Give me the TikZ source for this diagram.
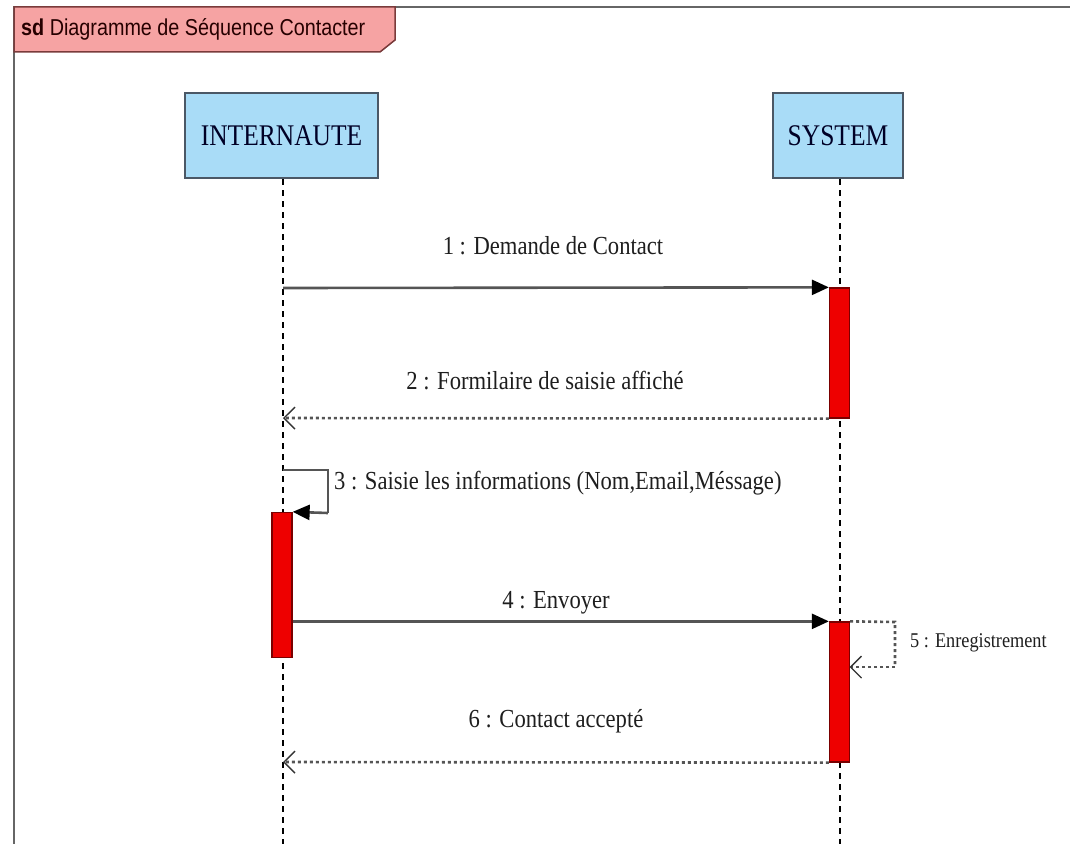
\documentclass[tikz,border=0pt]{standalone}
\usepackage{fontspec}
\usetikzlibrary{arrows.meta}
\newfontfamily\umlserif[FakeStretch=0.87]{Liberation Serif}
\newfontfamily\headserif[FakeStretch=0.85]{Liberation Serif}
\newfontfamily\umlsans[FakeStretch=0.86]{Liberation Sans}
\definecolor{headfill}{HTML}{A9DCF7}
\definecolor{headdraw}{HTML}{4B5866}
\definecolor{tabfill}{HTML}{F6A3A3}
\definecolor{tabdraw}{HTML}{7A3B3B}
\definecolor{actfill}{HTML}{EE0000}
\definecolor{actdraw}{HTML}{7A0000}
\definecolor{msgcol}{HTML}{555555}
\definecolor{txtcol}{HTML}{1E1E1E}
\tikzset{
  head/.style={draw=headdraw, fill=headfill, line width=2pt, minimum height=85pt, inner sep=0pt,
    font=\headserif\fontsize{30}{34}\selectfont, text=black!85!blue},
  lifeline/.style={dash pattern=on 6pt off 5pt, line width=1.3pt, black},
  actbar/.style={draw=actdraw, fill=actfill, line width=1.3pt, minimum width=20pt, inner sep=0pt},
  syncmsg/.style={draw=msgcol, line width=2.6pt, -{Triangle[length=17pt,width=15pt,fill=black,color=black]}},
  retmsg/.style={draw=msgcol, line width=2.6pt, dash pattern=on 3pt off 3pt,
    -{Straight Barb[length=11pt,width=22pt,line width=1.4pt,color=black!80]}},
  msglabel/.style={font=\umlserif\fontsize{26}{30}\selectfont, text=txtcol, inner sep=0pt},
  smalllabel/.style={font=\umlserif\fontsize{21}{25}\selectfont, text=txtcol, inner sep=0pt}
}
\begin{document}
\begin{tikzpicture}[x=1pt,y=-1pt]
\useasboundingbox (0,0) rectangle (1070,843);
% frame
\draw[draw=black!60, line width=1.8pt] (14,850) -- (14,7) -- (1080,7);
\draw[draw=tabdraw, fill=tabfill, line width=1.5pt] (14,7) -- (395,7) -- (395,40) -- (380,52) -- (14,52) -- cycle;
\node[anchor=west, inner sep=0pt, font=\umlsans\fontsize{23}{27}\selectfont, text=black!85!red] (title) at (21,29.5) {\textbf{sd}\ Diagramme de Séquence Contacter};
% heads
\node[head, minimum width=193pt] (int) at (281.5,135.5) {INTERNAUTE};
\node[head, minimum width=130pt] (sys) at (838,135.5) {SYSTEM};
\coordinate (intend) at (283,850);
\coordinate (sysend) at (840,850);
\draw[lifeline] (int.south -| intend) -- (intend);
\draw[lifeline] (sys.south -| sysend) -- (sysend);
% activations
\node[actbar, minimum height=130pt] (act1) at (839.5,353) {};
\node[actbar, minimum height=145pt] (act2) at (282,585) {};
\node[actbar, minimum height=140pt] (act3) at (839.5,692) {};
% message coordinates
\coordinate (m1s) at (283,288);
\coordinate (m2e) at (283,418);
\coordinate (m3a) at (283,470);
\coordinate (m3b) at (328,470);
\coordinate (m3c) at (328,513);
\coordinate (m5a) at (895,622);
\coordinate (m5b) at (895,667);
\coordinate (m5e) at (849.5,667);
\coordinate (m6e) at (283,762);
% messages
\draw[syncmsg] (m1s) -- (act1.north west);
\node[msglabel] (l1) at (553,246) {1 : Demande de Contact};
\draw[retmsg] (act1.south west) -- (m2e);
\node[msglabel] (l2) at (545,381) {2 : Formilaire de saisie affiché};
\draw[draw=msgcol, line width=2.6pt] (m3a) -- (m3b) -- (m3c);
\draw[syncmsg] (m3c) -- (act2.north east);
\node[msglabel, anchor=west] (l3) at (334,483) {3 : Saisie les informations (Nom,Email,Méssage)};
\draw[syncmsg] (act2.east |- act3.north) -- (act3.north west);
\node[msglabel] (l4) at (556,603) {4 : Envoyer};
\draw[draw=msgcol, line width=2.6pt, dash pattern=on 3pt off 3pt] (act3.north east) -- (m5a) -- (m5b);
\draw[retmsg] (m5b) -- (m5e);
\node[smalllabel, anchor=west] (l5) at (910,643) {5 : Enregistrement};
\draw[retmsg] (act3.south west) -- (m6e);
\node[msglabel] (l6) at (556,721) {6 : Contact accepté};
\end{tikzpicture}
\end{document}
